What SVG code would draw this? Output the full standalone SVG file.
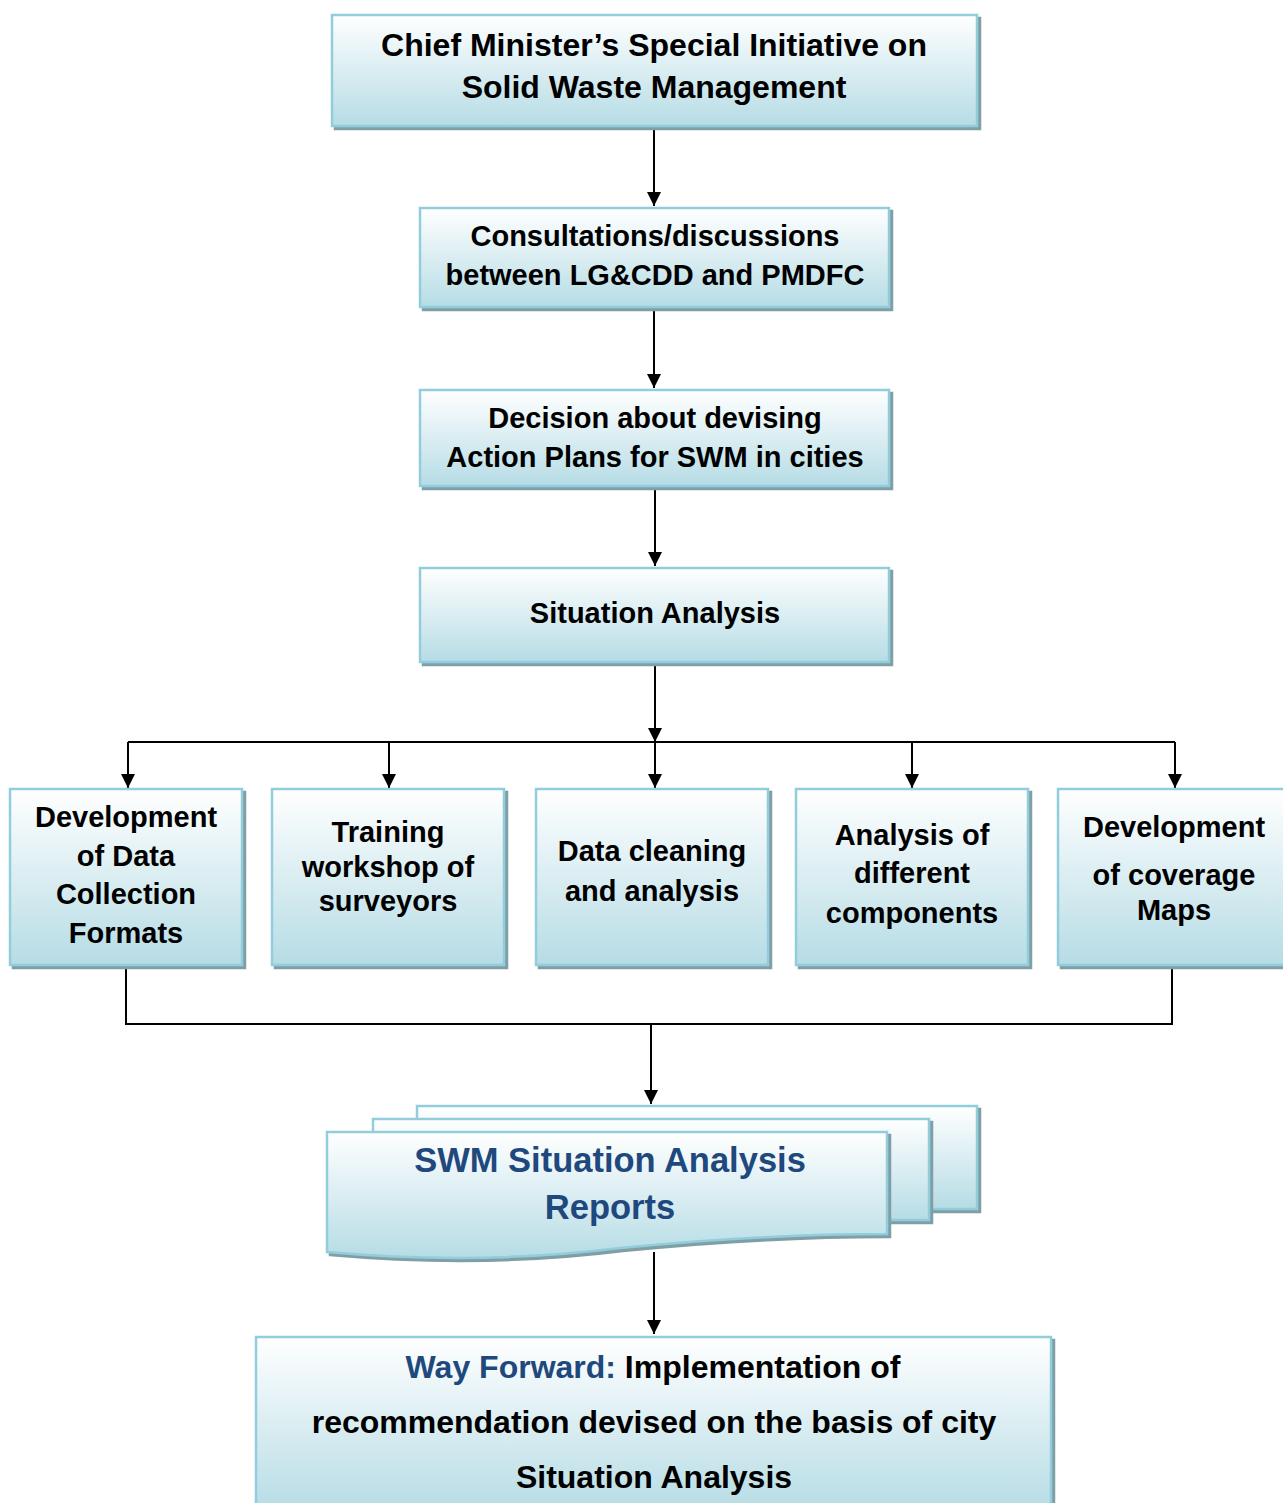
<svg xmlns="http://www.w3.org/2000/svg" width="1283" height="1503" viewBox="0 0 1283 1503">
<defs>
<linearGradient id="g" x1="0" y1="0" x2="0" y2="1">
<stop offset="0" stop-color="#ffffff"/>
<stop offset="1" stop-color="#b6dce5"/>
</linearGradient>
<marker id="ah" viewBox="0 0 10 10" refX="10" refY="5" markerWidth="14" markerHeight="14" markerUnits="userSpaceOnUse" orient="auto">
<path d="M0,0 L10,5 L0,10 z" fill="#000"/>
</marker>
<filter id="sh" x="-5%" y="-5%" width="110%" height="115%">
<feOffset in="SourceAlpha" dx="3" dy="3" result="o"/>
<feFlood flood-color="#7f9ea6"/>
<feComposite in2="o" operator="in" result="s"/>
<feMerge><feMergeNode in="s"/><feMergeNode in="SourceGraphic"/></feMerge>
</filter>
</defs>
<style>
.box{fill:url(#g);stroke:#92cddc;stroke-width:2.5;filter:url(#sh)}
.t{font-family:"Liberation Sans",Arial,sans-serif;font-weight:bold;fill:#000;text-anchor:middle}
.blue{fill:#1f497d}
.c{stroke:#000;stroke-width:2;fill:none}
</style>
<g id="connectors">
<path class="c" d="M654,127 V206" marker-end="url(#ah)"/>
<path class="c" d="M654,308 V388" marker-end="url(#ah)"/>
<path class="c" d="M655,487 V566" marker-end="url(#ah)"/>
<path class="c" d="M655,663 V742" marker-end="url(#ah)"/>
<path class="c" d="M128,742 H1175"/>
<path class="c" d="M128,742 V788" marker-end="url(#ah)"/>
<path class="c" d="M389,742 V788" marker-end="url(#ah)"/>
<path class="c" d="M655,742 V788" marker-end="url(#ah)"/>
<path class="c" d="M912,742 V788" marker-end="url(#ah)"/>
<path class="c" d="M1175,742 V788" marker-end="url(#ah)"/>
<path class="c" d="M126,969 V1024 H1172 V969"/>
<path class="c" d="M651,1024 V1104" marker-end="url(#ah)"/>
<path class="c" d="M654,1252 V1334" marker-end="url(#ah)"/>
</g>
<g id="n1">
<rect class="box" x="332" y="15" width="645" height="111"/>
<text class="t" font-size="32" x="654" y="56">Chief Minister’s Special Initiative on</text>
<text class="t" font-size="32" x="654" y="98">Solid Waste Management</text>
</g>
<g id="n2">
<rect class="box" x="420" y="208" width="469" height="99"/>
<text class="t" font-size="29" x="655" y="246">Consultations/discussions</text>
<text class="t" font-size="29" x="655" y="285">between LG&amp;CDD and PMDFC</text>
</g>
<g id="n3">
<rect class="box" x="420" y="390" width="469" height="96"/>
<text class="t" font-size="29" x="655" y="428">Decision about devising</text>
<text class="t" font-size="29" x="655" y="467">Action Plans for SWM in cities</text>
</g>
<g id="n4">
<rect class="box" x="420" y="568" width="469" height="94"/>
<text class="t" font-size="29" x="655" y="623">Situation Analysis</text>
</g>
<g id="n5">
<rect class="box" x="10" y="789" width="232" height="176"/>
<text class="t" font-size="29" x="126" y="827">Development</text>
<text class="t" font-size="29" x="126" y="866">of Data</text>
<text class="t" font-size="29" x="126" y="904">Collection</text>
<text class="t" font-size="29" x="126" y="943">Formats</text>
</g>
<g id="n6">
<rect class="box" x="272" y="789" width="232" height="176"/>
<text class="t" font-size="29" x="388" y="842">Training</text>
<text class="t" font-size="29" x="388" y="877">workshop of</text>
<text class="t" font-size="29" x="388" y="911">surveyors</text>
</g>
<g id="n7">
<rect class="box" x="536" y="789" width="232" height="176"/>
<text class="t" font-size="29" x="652" y="861">Data cleaning</text>
<text class="t" font-size="29" x="652" y="901">and analysis</text>
</g>
<g id="n8">
<rect class="box" x="796" y="789" width="232" height="176"/>
<text class="t" font-size="29" x="912" y="845">Analysis of</text>
<text class="t" font-size="29" x="912" y="883">different</text>
<text class="t" font-size="29" x="912" y="923">components</text>
</g>
<g id="n9">
<rect class="box" x="1058" y="789" width="232" height="176"/>
<text class="t" font-size="29" x="1174" y="837">Development</text>
<text class="t" font-size="29" x="1174" y="885">of coverage</text>
<text class="t" font-size="29" x="1174" y="920">Maps</text>
</g>
<g id="n10">
<rect class="box" x="417" y="1106" width="560" height="103"/>
<rect class="box" x="373" y="1119" width="556" height="101"/>
<path class="box" d="M327,1132 H887 V1234 C800,1234 720,1238 620,1248 C540,1258 440,1262 327,1252 Z"/>
<text class="t blue" font-size="34.5" x="610" y="1172">SWM Situation Analysis</text>
<text class="t blue" font-size="34.5" x="610" y="1219">Reports</text>
</g>
<g id="n11">
<rect class="box" x="256" y="1337" width="795" height="175"/>
<text class="t" font-size="32" x="653" y="1378"><tspan class="blue">Way Forward:</tspan> Implementation of</text>
<text class="t" font-size="32" x="654" y="1433">recommendation devised on the basis of city</text>
<text class="t" font-size="32" x="654" y="1488">Situation Analysis</text>
</g>
</svg>
